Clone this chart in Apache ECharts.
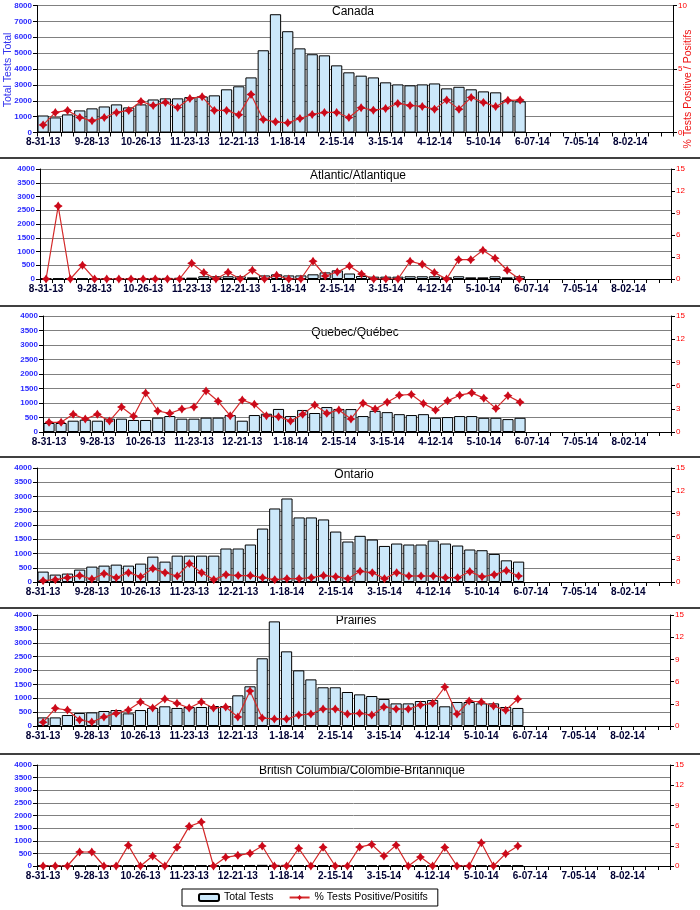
<!DOCTYPE html>
<html>
<head>
<meta charset="utf-8">
<script src="https://cdn.jsdelivr.net/npm/echarts@6/dist/echarts.min.js"></script>
<style>html,body{margin:0;padding:0;background:#fff}#c{width:700px;height:910px}</style>
</head>
<body>
<div id="c"></div>
<script>
const weeks = ['8-31-13','9-07-13','9-14-13','9-21-13','9-28-13','10-05-13','10-12-13','10-19-13','10-26-13','11-02-13','11-09-13','11-16-13','11-23-13','11-30-13','12-07-13','12-14-13','12-21-13','12-28-13','1-04-14','1-11-14','1-18-14','1-25-14','2-01-14','2-08-14','2-15-14','2-22-14','3-01-14','3-08-14','3-15-14','3-22-14','3-29-14','4-05-14','4-12-14','4-19-14','4-26-14','5-03-14','5-10-14','5-17-14','5-24-14','5-31-14','6-07-14','6-14-14','6-21-14','6-28-14','7-05-14','7-12-14','7-19-14','7-26-14','8-02-14','8-09-14','8-16-14','8-23-14'];

const panelTitles = ['Canada','Atlantic/Atlantique','Quebec/Québec','Ontario','Prairies','British Columbia/Colombie-Britannique'];

const canadaTests = [1070,950,1140,1390,1520,1640,1770,1580,1770,2080,2150,2150,2230,2270,2340,2720,2910,3470,5180,7450,6380,5300,4930,4860,4230,3790,3580,3470,3160,3030,2970,3030,3090,2780,2880,2720,2590,2530,2020,1960];
const canadaPos = [0.6,1.58,1.74,1.18,0.92,1.18,1.58,1.74,2.45,2.13,2.37,1.97,2.68,2.82,1.74,1.74,1.39,3.0,1.03,0.84,0.76,1.1,1.42,1.58,1.58,1.18,1.95,1.76,1.89,2.29,2.13,2.05,1.84,2.55,1.84,2.76,2.37,2.05,2.53,2.55];

const atlanticTests = [20,20,15,20,25,25,30,35,35,40,40,45,50,100,100,100,100,60,130,170,130,130,170,240,315,200,110,85,85,85,100,100,100,60,100,60,60,100,60,100];
const atlanticPos = [0,9.94,0,1.87,0,0,0,0,0,0,0,0,2.14,0.87,0,0.91,0,1.19,0,0.5,0,0,2.42,0.41,0.96,1.78,0.68,0,0,0,2.42,2.0,0.87,0,2.64,2.64,3.92,2.83,1.19,0];

const quebecTests = [310,310,390,425,390,460,460,415,415,495,550,460,460,495,495,585,390,585,630,795,550,760,655,860,795,790,550,730,685,615,585,615,490,515,550,550,490,490,445,490];
const quebecPos = [1.25,1.25,2.28,1.68,2.28,1.42,3.23,2.03,5.04,2.72,2.41,2.97,3.23,5.3,3.97,2.11,4.14,3.58,2.11,1.98,1.42,2.28,3.49,2.41,2.84,1.68,3.73,2.96,3.86,4.76,4.85,3.69,2.83,4.03,4.76,5.06,4.38,3.05,4.68,3.86];

const ontarioTests = [365,260,295,435,540,575,610,575,645,890,715,925,925,925,925,1175,1175,1315,1875,2580,2930,2265,2265,2195,1770,1420,1620,1490,1265,1350,1315,1315,1455,1350,1280,1140,1115,985,760,715];
const ontarioPos = [0.18,0.31,0.57,0.84,0.4,1.1,0.57,1.23,0.7,1.76,1.23,0.79,2.42,1.23,0.31,0.97,0.84,0.84,0.57,0.31,0.44,0.44,0.57,0.84,0.7,0.44,1.41,1.23,0.44,1.23,0.79,0.79,0.79,0.57,0.57,1.37,0.7,0.97,1.5,0.79];

const prairiesTests = [310,310,395,470,490,540,575,455,575,650,710,650,685,685,720,720,1105,1430,2440,3770,2690,2005,1680,1395,1395,1225,1140,1080,975,815,815,900,935,710,865,865,815,815,685,650];
const prairiesPos = [0.5,2.39,2.16,0.81,0.54,1.22,1.71,2.16,3.24,2.43,3.65,3.06,2.43,3.24,2.43,2.57,1.22,4.73,1.08,0.95,0.95,1.49,1.62,2.3,2.3,1.62,1.71,1.49,2.57,2.3,2.3,2.84,3.06,5.27,1.62,3.38,3.24,2.7,2.12,3.65];

const bcTests = [10,10,10,10,15,15,20,20,25,25,25,30,30,35,35,40,40,40,45,45,45,40,40,40,35,35,30,30,30,30,25,25,25,25,25,20,20,20,20,20];
const bcPos = [0,0,0,2.08,2.08,0,0,3.07,0,1.49,0,2.77,5.89,6.53,0,1.29,1.58,1.88,2.97,0,0,2.62,0,2.77,0,0,2.81,3.2,1.48,3.1,0,1.33,0,2.76,0,0,3.45,0,1.83,2.96];

const leftMax = [8000,4000,4000,4000,4000,4000];
const leftStep = [1000,500,500,500,500,500];
const rightMax = [10,15,15,15,15,15];
const rightStep = [5,3,3,3,3,3];

const testsSeries = [canadaTests, atlanticTests, quebecTests, ontarioTests, prairiesTests, bcTests];
const posSeries = [canadaPos, atlanticPos, quebecPos, ontarioPos, prairiesPos, bcPos];

const barName = 'Total Tests';
const lineName = '% Tests Positive/Positifs';

// layout (positions only)
const layout = [
  {left:37, right:27, top:5.5, height:127, tx:353, ty:12},
  {left:40, right:29, top:169, height:110, tx:358, ty:176},
  {left:43, right:29, top:316, height:116, tx:355, ty:333},
  {left:37, right:29, top:468, height:114, tx:354, ty:475},
  {left:37, right:30, top:615, height:111, tx:356, ty:621},
  {left:37, right:30, top:765, height:101, tx:362, ty:771}
];
const separators = [158, 306, 457, 608, 754];

const FONT = 'Liberation Sans, Arial, sans-serif';
const star = 'path://M0,-10 L4,-4 L10,0 L4,4 L0,10 L-4,4 L-10,0 L-4,-4 Z';

const grid = [], xAxis = [], yAxis = [], series = [], graphic = [];
layout.forEach((L, k) => {
  grid.push({left:L.left, right:L.right, top:L.top, height:L.height, containLabel:false});
  xAxis.push({
    type:'category', gridIndex:k, data:weeks, boundaryGap:true,
    axisLine:{show:true, lineStyle:{color:'#000', width:1}},
    axisTick:{show:true, interval:0, length:4, lineStyle:{color:'#000'}},
    axisLabel:{interval:3, fontSize:10, fontWeight:'bold', color:'#000033', margin:5, fontFamily:FONT},
    splitLine:{show:false}
  });
  yAxis.push({
    type:'value', gridIndex:k, min:0, max:leftMax[k], interval:leftStep[k], position:'left',
    axisLine:{show:true, lineStyle:{color:'#000'}},
    axisTick:{show:true, length:4, lineStyle:{color:'#000'}},
    splitLine:{show:true, lineStyle:{color:'#808080', width:1}},
    axisLabel:{color:'#2a2aff', fontSize:8, fontWeight:'bold', margin:5, fontFamily:FONT,
      formatter:v => String(v)}
  });
  yAxis.push({
    type:'value', gridIndex:k, min:0, max:rightMax[k], interval:rightStep[k], position:'right',
    axisLine:{show:true, lineStyle:{color:'#000'}},
    axisTick:{show:true, length:4, lineStyle:{color:'#000'}},
    splitLine:{show:false},
    axisLabel:{color:'#ff0000', fontSize:8, margin:5, fontFamily:FONT, formatter:v => String(v)}
  });
  series.push({
    type:'bar', name:barName, xAxisIndex:k, yAxisIndex:2*k, data:testsSeries[k],
    barCategoryGap:'8%',
    itemStyle:{color:'#cce8fa', borderColor:'#000', borderWidth:1},
    animation:false
  });
  series.push({
    type:'line', name:lineName, xAxisIndex:k, yAxisIndex:2*k+1, data:posSeries[k],
    symbol:star, symbolSize:9, showAllSymbol:true,
    lineStyle:{color:'#d42a2a', width:1.2},
    itemStyle:{color:'#cc0a1a'},
    animation:false, z:3
  });
  graphic.push({type:'text', x:L.tx, y:L.ty, silent:true,
    style:{text:panelTitles[k], align:'center', verticalAlign:'middle', fill:'#000', font:'12px ' + FONT}});
});

separators.forEach(y => graphic.push({type:'line', silent:true,
  shape:{x1:0, y1:y, x2:700, y2:y}, style:{stroke:'#000', lineWidth:1.5}}));

graphic.push({type:'text', x:8, y:70, rotation:Math.PI/2, silent:true,
  style:{text:'Total Tests Total', align:'center', verticalAlign:'middle', fill:'#3333ee', font:'10.5px ' + FONT}});
graphic.push({type:'text', x:688, y:89, rotation:Math.PI/2, silent:true,
  style:{text:'% Tests Positive / Positifs', align:'center', verticalAlign:'middle', fill:'#ee1111', font:'10.5px ' + FONT}});

const chart = echarts.init(document.getElementById('c'));
chart.setOption({
  backgroundColor:'#fff',
  animation:false,
  grid, xAxis, yAxis, series, graphic,
  legend:{
    data:[barName, lineName], left:182, top:889,
    itemWidth:20, itemHeight:7, itemGap:15,
    borderColor:'#000', borderWidth:1, padding:[3,10,3,16],
    textStyle:{fontSize:10.5, color:'#000', fontFamily:FONT}
  }
});
</script>
</body>
</html>
